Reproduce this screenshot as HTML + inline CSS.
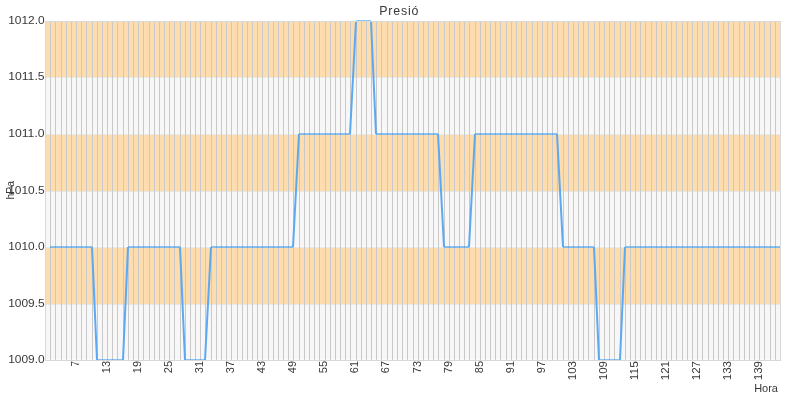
<!DOCTYPE html>
<html><head><meta charset="utf-8"><style>
html,body{margin:0;padding:0;background:#fff;width:800px;height:400px;overflow:hidden}
svg{display:block;will-change:transform}
text{font-family:"Liberation Sans",sans-serif;fill:#383838}
</style></head><body>
<svg width="800" height="400" viewBox="0 0 800 400">
<rect x="46" y="22" width="734" height="55" fill="#FDDDAE"/>
<rect x="46" y="135" width="734" height="56" fill="#FDDDAE"/>
<rect x="46" y="248" width="734" height="56" fill="#FDDDAE"/>
<rect x="46" y="78" width="734" height="55" fill="#F7F7F7"/>
<rect x="46" y="133" width="734" height="1" fill="#FBFBFB"/>
<rect x="46" y="192" width="734" height="54" fill="#F7F7F7"/>
<rect x="46" y="246" width="734" height="1" fill="#FBFBFB"/>
<rect x="46" y="305" width="734" height="54" fill="#F7F7F7"/>
<rect x="46" y="359" width="734" height="1" fill="#FBFBFB"/>
<path d="M46 77.5H780M46 134.5H780M46 191.5H780M46 247.5H780M46 304.5H780" stroke="#E8E8E8" stroke-width="1" fill="none"/>
<path d="M50.5 22V360M55.5 22V360M61.5 22V360M66.5 22V360M71.5 22V360M76.5 22V360M81.5 22V360M86.5 22V360M92.5 22V360M97.5 22V360M102.5 22V360M107.5 22V360M112.5 22V360M117.5 22V360M123.5 22V360M128.5 22V360M133.5 22V360M138.5 22V360M143.5 22V360M149.5 22V360M154.5 22V360M159.5 22V360M164.5 22V360M169.5 22V360M174.5 22V360M180.5 22V360M185.5 22V360M190.5 22V360M195.5 22V360M200.5 22V360M205.5 22V360M211.5 22V360M216.5 22V360M221.5 22V360M226.5 22V360M231.5 22V360M237.5 22V360M242.5 22V360M247.5 22V360M252.5 22V360M257.5 22V360M262.5 22V360M268.5 22V360M273.5 22V360M278.5 22V360M283.5 22V360M288.5 22V360M293.5 22V360M299.5 22V360M304.5 22V360M309.5 22V360M314.5 22V360M319.5 22V360M325.5 22V360M330.5 22V360M335.5 22V360M340.5 22V360M345.5 22V360M350.5 22V360M356.5 22V360M361.5 22V360M366.5 22V360M371.5 22V360M376.5 22V360M381.5 22V360M387.5 22V360M392.5 22V360M397.5 22V360M402.5 22V360M407.5 22V360M413.5 22V360M418.5 22V360M423.5 22V360M428.5 22V360M433.5 22V360M438.5 22V360M444.5 22V360M449.5 22V360M454.5 22V360M459.5 22V360M464.5 22V360M469.5 22V360M475.5 22V360M480.5 22V360M485.5 22V360M490.5 22V360M495.5 22V360M500.5 22V360M506.5 22V360M511.5 22V360M516.5 22V360M521.5 22V360M526.5 22V360M532.5 22V360M537.5 22V360M542.5 22V360M547.5 22V360M552.5 22V360M557.5 22V360M563.5 22V360M568.5 22V360M573.5 22V360M578.5 22V360M583.5 22V360M588.5 22V360M594.5 22V360M599.5 22V360M604.5 22V360M609.5 22V360M614.5 22V360M620.5 22V360M625.5 22V360M630.5 22V360M635.5 22V360M640.5 22V360M645.5 22V360M651.5 22V360M656.5 22V360M661.5 22V360M666.5 22V360M671.5 22V360M676.5 22V360M682.5 22V360M687.5 22V360M692.5 22V360M697.5 22V360M702.5 22V360M708.5 22V360M713.5 22V360M718.5 22V360M723.5 22V360M728.5 22V360M733.5 22V360M739.5 22V360M744.5 22V360M749.5 22V360M754.5 22V360M759.5 22V360M764.5 22V360M770.5 22V360M775.5 22V360" stroke="#C9C9C9" stroke-width="1" fill="none"/>
<path d="M50 247H92M97 360H123M128 247H180M185 360H205M211 247H293M299 134H350M356 21H371M376 134H438M444 247H469M475 134H557M563 247H594M599 360H620M625 247H780" fill="none" stroke="rgba(30,140,240,0.5)" stroke-width="2" stroke-linecap="butt"/>
<path d="M92 247L97 360M123 360L128 247M180 247L185 360M205 360L211 247M293 247L299 134M350 134L356 21M371 21L376 134M438 134L444 247M469 247L475 134M557 134L563 247M594 247L599 360M620 360L625 247" fill="none" stroke="#5DA8F2" stroke-width="2" stroke-linecap="butt"/>
<rect x="45.5" y="21.5" width="735" height="339" fill="none" stroke="#D8D8D8" stroke-width="1"/>
<text x="44.6" y="23.80" text-anchor="end" font-size="10.67" textLength="36.4" lengthAdjust="spacingAndGlyphs">1012.0</text>
<text x="44.6" y="79.80" text-anchor="end" font-size="10.67" textLength="36.4" lengthAdjust="spacingAndGlyphs">1011.5</text>
<text x="44.6" y="136.80" text-anchor="end" font-size="10.67" textLength="36.4" lengthAdjust="spacingAndGlyphs">1011.0</text>
<text x="44.6" y="193.80" text-anchor="end" font-size="10.67" textLength="36.4" lengthAdjust="spacingAndGlyphs">1010.5</text>
<text x="44.6" y="249.80" text-anchor="end" font-size="10.67" textLength="36.4" lengthAdjust="spacingAndGlyphs">1010.0</text>
<text x="44.6" y="306.80" text-anchor="end" font-size="10.67" textLength="36.4" lengthAdjust="spacingAndGlyphs">1009.5</text>
<text x="44.6" y="362.80" text-anchor="end" font-size="10.67" textLength="36.4" lengthAdjust="spacingAndGlyphs">1009.0</text>
<text transform="translate(78.91,361.0) rotate(-90)" text-anchor="end" font-size="10.67" textLength="5.6" lengthAdjust="spacingAndGlyphs">7</text>
<text transform="translate(109.96,361.0) rotate(-90)" text-anchor="end" font-size="10.67" textLength="12.2" lengthAdjust="spacingAndGlyphs">13</text>
<text transform="translate(141.02,361.0) rotate(-90)" text-anchor="end" font-size="10.67" textLength="12.2" lengthAdjust="spacingAndGlyphs">19</text>
<text transform="translate(172.08,361.0) rotate(-90)" text-anchor="end" font-size="10.67" textLength="12.2" lengthAdjust="spacingAndGlyphs">25</text>
<text transform="translate(203.13,361.0) rotate(-90)" text-anchor="end" font-size="10.67" textLength="12.2" lengthAdjust="spacingAndGlyphs">31</text>
<text transform="translate(234.19,361.0) rotate(-90)" text-anchor="end" font-size="10.67" textLength="12.2" lengthAdjust="spacingAndGlyphs">37</text>
<text transform="translate(265.24,361.0) rotate(-90)" text-anchor="end" font-size="10.67" textLength="12.2" lengthAdjust="spacingAndGlyphs">43</text>
<text transform="translate(296.30,361.0) rotate(-90)" text-anchor="end" font-size="10.67" textLength="12.2" lengthAdjust="spacingAndGlyphs">49</text>
<text transform="translate(327.36,361.0) rotate(-90)" text-anchor="end" font-size="10.67" textLength="12.2" lengthAdjust="spacingAndGlyphs">55</text>
<text transform="translate(358.41,361.0) rotate(-90)" text-anchor="end" font-size="10.67" textLength="12.2" lengthAdjust="spacingAndGlyphs">61</text>
<text transform="translate(389.47,361.0) rotate(-90)" text-anchor="end" font-size="10.67" textLength="12.2" lengthAdjust="spacingAndGlyphs">67</text>
<text transform="translate(420.53,361.0) rotate(-90)" text-anchor="end" font-size="10.67" textLength="12.2" lengthAdjust="spacingAndGlyphs">73</text>
<text transform="translate(451.58,361.0) rotate(-90)" text-anchor="end" font-size="10.67" textLength="12.2" lengthAdjust="spacingAndGlyphs">79</text>
<text transform="translate(482.64,361.0) rotate(-90)" text-anchor="end" font-size="10.67" textLength="12.2" lengthAdjust="spacingAndGlyphs">85</text>
<text transform="translate(513.70,361.0) rotate(-90)" text-anchor="end" font-size="10.67" textLength="12.2" lengthAdjust="spacingAndGlyphs">91</text>
<text transform="translate(544.75,361.0) rotate(-90)" text-anchor="end" font-size="10.67" textLength="12.2" lengthAdjust="spacingAndGlyphs">97</text>
<text transform="translate(575.81,361.0) rotate(-90)" text-anchor="end" font-size="10.67" textLength="19.2" lengthAdjust="spacingAndGlyphs">103</text>
<text transform="translate(606.86,361.0) rotate(-90)" text-anchor="end" font-size="10.67" textLength="19.2" lengthAdjust="spacingAndGlyphs">109</text>
<text transform="translate(637.92,361.0) rotate(-90)" text-anchor="end" font-size="10.67" textLength="19.2" lengthAdjust="spacingAndGlyphs">115</text>
<text transform="translate(668.98,361.0) rotate(-90)" text-anchor="end" font-size="10.67" textLength="19.2" lengthAdjust="spacingAndGlyphs">121</text>
<text transform="translate(700.03,361.0) rotate(-90)" text-anchor="end" font-size="10.67" textLength="19.2" lengthAdjust="spacingAndGlyphs">127</text>
<text transform="translate(731.09,361.0) rotate(-90)" text-anchor="end" font-size="10.67" textLength="19.2" lengthAdjust="spacingAndGlyphs">133</text>
<text transform="translate(762.15,361.0) rotate(-90)" text-anchor="end" font-size="10.67" textLength="19.2" lengthAdjust="spacingAndGlyphs">139</text>
<text x="778" y="391.7" text-anchor="end" font-size="10.67" textLength="23.8" lengthAdjust="spacingAndGlyphs">Hora</text>
<text transform="translate(13.8,199.4) rotate(-90)" font-size="10.9" textLength="18.4" lengthAdjust="spacingAndGlyphs">hPa</text>
<text x="379.3" y="15" font-size="12.4" textLength="39.2" lengthAdjust="spacing">Presió</text>
</svg>
</body></html>
